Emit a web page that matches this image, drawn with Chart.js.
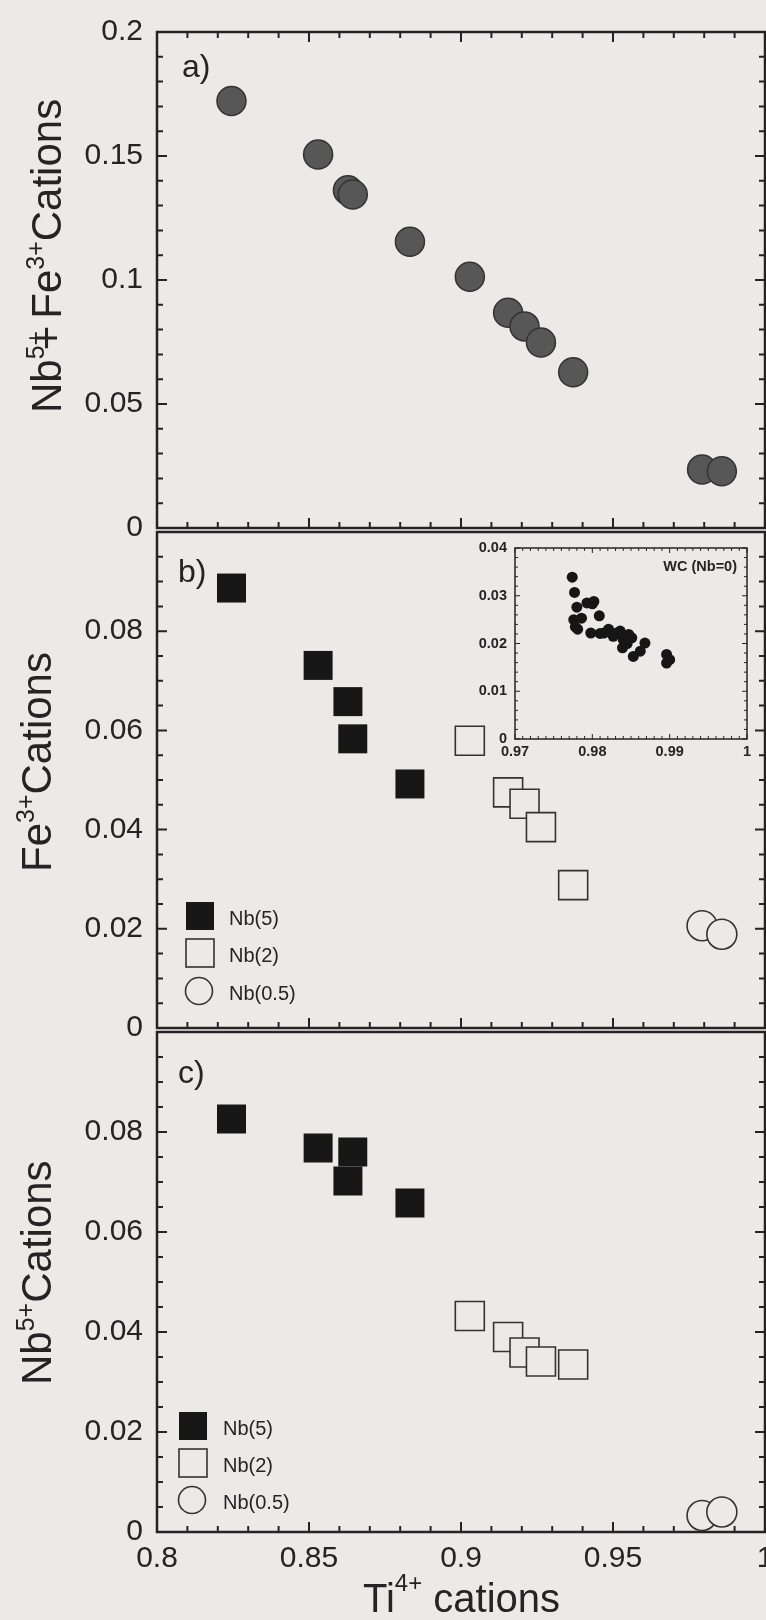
<!DOCTYPE html>
<html>
<head>
<meta charset="utf-8">
<script src="https://cdn.jsdelivr.net/npm/chart.js@4.4.1/dist/chart.umd.min.js"></script>
<style>
  html, body { margin: 0; padding: 0; background: #ebeae7; }
  body { width: 766px; height: 1620px; overflow: hidden; position: relative; }
  canvas { position: absolute; left: 0; }
</style>
</head>
<body>
<canvas id="panelA" width="820" height="560" style="top:0"></canvas>
<canvas id="panelB" width="820" height="560" style="top:500px"></canvas>
<canvas id="panelC" width="820" height="620" style="top:1000px"></canvas>
<canvas id="inset" width="330" height="250" style="left:440px;top:530px"></canvas>
<script>
var legendLabels = ['Nb(5)', 'Nb(2)', 'Nb(0.5)']

// Ti4+ cations per sample, by Nb level
var tiNb5 = [0.8245, 0.8530, 0.8628, 0.8644, 0.8832]
var tiNb2 = [0.9029, 0.9155, 0.9209, 0.9263, 0.9369]
var tiNb05 = [0.9793, 0.9858]

// a) Nb5+ + Fe3+ cations
var sumNb5 = [0.1722, 0.1506, 0.1362, 0.1345, 0.1154]
var sumNb2 = [0.1013, 0.0868, 0.0813, 0.0748, 0.0628]
var sumNb05 = [0.0236, 0.0229]

// b) Fe3+ cations
var feNb5 = [0.0887, 0.0731, 0.0658, 0.0583, 0.0492]
var feNb2 = [0.0579, 0.0475, 0.0452, 0.0405, 0.0288]
var feNb05 = [0.0206, 0.0189]

// c) Nb5+ cations
var nbNb5 = [0.0826, 0.0768, 0.0702, 0.0760, 0.0658]
var nbNb2 = [0.0432, 0.0390, 0.0359, 0.0341, 0.0335]
var nbNb05 = [0.0033, 0.0040]

// inset: WC (Nb=0), Fe3+ against Ti4+
var wcTi = [0.9774, 0.9777, 0.9780, 0.9786, 0.9778, 0.9776, 0.9793, 0.9802, 0.9809, 0.9798,
            0.9810, 0.9821, 0.9827, 0.9836, 0.9840, 0.9847, 0.9851, 0.9839, 0.9853, 0.9862,
            0.9868, 0.9896, 0.9900, 0.9896, 0.9781, 0.9832, 0.9815, 0.9845, 0.9800]
var wcFe = [0.0339, 0.0307, 0.0276, 0.0253, 0.0235, 0.0250, 0.0285, 0.0288, 0.0258, 0.0222,
            0.0221, 0.0230, 0.0215, 0.0226, 0.0208, 0.0219, 0.0212, 0.0191, 0.0173, 0.0184,
            0.0201, 0.0177, 0.0166, 0.0159, 0.0230, 0.0222, 0.0222, 0.0200, 0.0283]

// tick labels
var tiTicks = [0.8, 0.85, 0.9, 0.95, 1]
var sumTicks = [0, 0.05, 0.1, 0.15, 0.2]
var cationTicks = [0, 0.02, 0.04, 0.06, 0.08]
var wcTiTicks = [0.97, 0.98, 0.99, 1]
var wcFeTicks = [0, 0.01, 0.02, 0.03, 0.04]

var family = "'Liberation Sans', Arial, Helvetica, sans-serif"
var ink = '#242424'
var paper = '#ebeae7'

Chart.defaults.font.family = family
Chart.defaults.color = ink

function xy(xs, ys) {
    return xs.map(function (x, i) { return {x: x, y: ys[i]} })
}

function axis(min, max, ticks, font, pad, extra) {
    return Object.assign({
        type: 'linear',
        min: min,
        max: max,
        grid: {display: false, drawTicks: false},
        border: {display: false},
        afterBuildTicks: function (s) { s.ticks = ticks.map(function (v) { return {value: v} }) },
        ticks: {
            callback: function (v) { return String(v) },
            font: font,
            padding: pad,
            color: ink,
            maxRotation: 0,
            autoSkip: false
        }
    }, extra || {})
}

// point styles
function grayDots(label, data) {
    return {label: label, data: data, pointStyle: 'circle', pointRadius: 14.5, pointHoverRadius: 14.5,
            pointBackgroundColor: '#575757', pointBorderColor: '#333', pointBorderWidth: 1.5}
}
function styled(kind, label, data) {
    if (kind === 0) {
        return {label: label, data: data, pointStyle: 'rect', pointRadius: 20.5, pointHoverRadius: 20.5,
                pointBackgroundColor: '#171717', pointBorderColor: '#171717', pointBorderWidth: 0}
    }
    if (kind === 1) {
        return {label: label, data: data, pointStyle: 'rect', pointRadius: 20.5, pointHoverRadius: 20.5,
                pointBackgroundColor: paper, pointBorderColor: '#333', pointBorderWidth: 1.6}
    }
    return {label: label, data: data, pointStyle: 'circle', pointRadius: 15, pointHoverRadius: 15,
            pointBackgroundColor: paper, pointBorderColor: '#333', pointBorderWidth: 1.6}
}

// frame round the plot area, with inward major/minor ticks
function frame(cfg) {
    return {
        id: 'frame',
        beforeDatasetsDraw: function (chart) {
            var a = chart.chartArea, ctx = chart.ctx
            var sx = chart.scales.x, sy = chart.scales.y
            function marks(scale, step, major, fn) {
                var n = Math.round((scale.max - scale.min) / step)
                for (var i = 0; i <= n; i++) {
                    var v = scale.min + i * step
                    var q = v / major
                    var isMajor = Math.abs(q - Math.round(q)) < 1e-6
                    fn(scale.getPixelForValue(v), isMajor ? cfg.majLen : cfg.minLen)
                }
            }
            ctx.save()
            ctx.strokeStyle = ink
            ctx.lineWidth = cfg.tickWidth
            ctx.beginPath()
            marks(sx, cfg.xMinor, cfg.xMajor, function (p, len) {
                if (cfg.sides.indexOf('b') > -1) { ctx.moveTo(p, a.bottom); ctx.lineTo(p, a.bottom - len) }
                if (cfg.sides.indexOf('t') > -1) { ctx.moveTo(p, a.top); ctx.lineTo(p, a.top + len) }
            })
            marks(sy, cfg.yMinor, cfg.yMajor, function (p, len) {
                if (cfg.sides.indexOf('l') > -1) { ctx.moveTo(a.left, p); ctx.lineTo(a.left + len, p) }
                if (cfg.sides.indexOf('r') > -1) { ctx.moveTo(a.right, p); ctx.lineTo(a.right - len, p) }
            })
            ctx.stroke()
            ctx.lineWidth = cfg.lineWidth
            ctx.strokeRect(a.left, a.top, a.right - a.left, a.bottom - a.top)
            ctx.restore()
        }
    }
}

// text run with superscripts, optionally turned to read bottom to top
function drawRich(ctx, parts, x, y, vertical) {
    ctx.save()
    ctx.translate(x, y)
    if (vertical) ctx.rotate(-Math.PI / 2)
    ctx.textAlign = 'left'
    ctx.textBaseline = 'alphabetic'
    var pos = 0
    parts.forEach(function (p) {
        ctx.font = p.s + 'px ' + family
        pos += p.dx || 0
        ctx.fillText(p.t, pos, -(p.rise || 0))
        pos += ctx.measureText(p.t).width
    })
    ctx.restore()
}

function texts(cfg) {
    return {
        id: 'texts',
        afterDraw: function (chart) {
            var ctx = chart.ctx
            ctx.save()
            ctx.fillStyle = ink
            ctx.strokeStyle = '#333'
            ;(cfg.labels || []).forEach(function (l) {
                ctx.font = (l.weight || 'normal') + ' ' + l.size + 'px ' + family
                ctx.textAlign = l.align || 'left'
                ctx.textBaseline = l.baseline || 'alphabetic'
                ctx.fillText(l.text, l.x, l.y)
            })
            ;(cfg.titles || []).forEach(function (t) { drawRich(ctx, t.parts, t.x, t.y, t.vertical) })
            if (cfg.legend) {
                var g = cfg.legend
                legendLabels.forEach(function (label, i) {
                    var cy = g.rows[i], cx = g.x
                    ctx.lineWidth = 1.6
                    if (i === 0) {
                        ctx.fillStyle = '#171717'
                        ctx.fillRect(cx - 14, cy - 14, 28, 28)
                    } else if (i === 1) {
                        ctx.strokeRect(cx - 14, cy - 14, 28, 28)
                    } else {
                        ctx.beginPath()
                        ctx.arc(cx - 1, cy, 13.5, 0, Math.PI * 2)
                        ctx.stroke()
                    }
                    ctx.fillStyle = ink
                    ctx.font = '20px ' + family
                    ctx.textAlign = 'left'
                    ctx.textBaseline = 'middle'
                    ctx.fillText(label, g.textX, cy + 3)
                })
            }
            ctx.restore()
        }
    }
}

var bigFrame = {sides: 'tblr', lineWidth: 2.5, tickWidth: 2, majLen: 10, minLen: 6,
                xMinor: 0.01, xMajor: 0.05, yMinor: 0.01, yMajor: 0.05}
var lowFrame = Object.assign({}, bigFrame, {sides: 'blr', yMinor: 0.005, yMajor: 0.02})

function baseOptions(padding, yAxis, xAxis) {
    return {
        responsive: false,
        animation: false,
        events: [],
        layout: {padding: padding},
        plugins: {legend: {display: false}, tooltip: {enabled: false}},
        scales: {x: xAxis, y: yAxis}
    }
}

var leftWidth = function (s) { s.width = 157 }
var tickFont = {size: 30}
var smallFont = {size: 14.5, weight: 'bold'}

// a) Nb5+ + Fe3+
new Chart(document.getElementById('panelA'), {
    type: 'scatter',
    data: {datasets: [
        grayDots(legendLabels[0], xy(tiNb5, sumNb5)),
        grayDots(legendLabels[1], xy(tiNb2, sumNb2)),
        grayDots(legendLabels[2], xy(tiNb05, sumNb05))
    ]},
    options: baseOptions({left: 0, right: 55, top: 28, bottom: 32},
        axis(0, 0.2, sumTicks, tickFont, 14, {afterFit: leftWidth}),
        {type: 'linear', min: 0.8, max: 1, display: false}),
    plugins: [frame(bigFrame), texts({
        labels: [{text: 'a)', x: 182, y: 77, size: 32}],
        titles: [{vertical: true, x: 61, y: 413, parts: [
            {t: 'Nb', s: 42}, {t: '5+', s: 25, rise: 17}, {t: '+', s: 42, dx: -19.5},
            {t: 'Fe', s: 42, dx: 7}, {t: '3+', s: 25, rise: 17}, {t: 'Cations', s: 42}]}]
    })]
})

// b) Fe3+
new Chart(document.getElementById('panelB'), {
    type: 'scatter',
    data: {datasets: [
        styled(0, legendLabels[0], xy(tiNb5, feNb5)),
        styled(1, legendLabels[1], xy(tiNb2, feNb2)),
        styled(2, legendLabels[2], xy(tiNb05, feNb05))
    ]},
    options: baseOptions({left: 0, right: 55, top: 27, bottom: 30},
        axis(0, 0.1, cationTicks, tickFont, 14, {afterFit: leftWidth}),
        {type: 'linear', min: 0.8, max: 1, display: false}),
    plugins: [frame(lowFrame), texts({
        labels: [{text: 'b)', x: 178, y: 82, size: 32}],
        titles: [{vertical: true, x: 51, y: 372, parts: [
            {t: 'Fe', s: 42}, {t: '3+', s: 25, rise: 17}, {t: 'Cations', s: 42}]}],
        legend: {x: 200, textX: 229, rows: [416, 453, 491]}
    })]
})

// c) Nb5+
new Chart(document.getElementById('panelC'), {
    type: 'scatter',
    data: {datasets: [
        styled(0, legendLabels[0], xy(tiNb5, nbNb5)),
        styled(1, legendLabels[1], xy(tiNb2, nbNb2)),
        styled(2, legendLabels[2], xy(tiNb05, nbNb05))
    ]},
    options: baseOptions({left: 0, right: 55, top: 30, bottom: 0},
        axis(0, 0.1, cationTicks, tickFont, 14, {afterFit: leftWidth}),
        axis(0.8, 1, tiTicks, tickFont, 9, {afterFit: function (s) { s.height = 88 }})),
    plugins: [frame(lowFrame), texts({
        labels: [{text: 'c)', x: 178, y: 83, size: 32}],
        titles: [
            {vertical: true, x: 51, y: 385, parts: [
                {t: 'Nb', s: 42}, {t: '5+', s: 25, rise: 17}, {t: 'Cations', s: 42}]},
            {vertical: false, x: 363, y: 612, parts: [
                {t: 'Ti', s: 40}, {t: '4+', s: 24, rise: 21}, {t: ' cations', s: 40}]}
        ],
        legend: {x: 193, textX: 223, rows: [426, 463, 500]}
    })]
})

// inset: WC (Nb=0)
new Chart(document.getElementById('inset'), {
    type: 'scatter',
    data: {datasets: [{
        label: 'WC (Nb=0)', data: xy(wcTi, wcFe), pointStyle: 'circle', pointRadius: 5.5, pointHoverRadius: 5.5,
        pointBackgroundColor: '#161616', pointBorderColor: '#161616', pointBorderWidth: 0
    }]},
    options: baseOptions({left: 0, right: 23, top: 18, bottom: 0},
        axis(0, 0.04, wcFeTicks, smallFont, 8, {afterFit: function (s) { s.width = 75 }}),
        axis(0.97, 1, wcTiTicks, smallFont, 4, {afterFit: function (s) { s.height = 41 }})),
    plugins: [frame({sides: 'tblr', lineWidth: 1.5, tickWidth: 1, majLen: 5, minLen: 3,
                     xMinor: 0.001, xMajor: 0.01, yMinor: 0.002, yMajor: 0.01}),
              texts({labels: [{text: 'WC (Nb=0)', x: 297, y: 37, size: 14.5, weight: 'bold',
                               align: 'right', baseline: 'middle'}]})]
})
</script>
</body>
</html>
